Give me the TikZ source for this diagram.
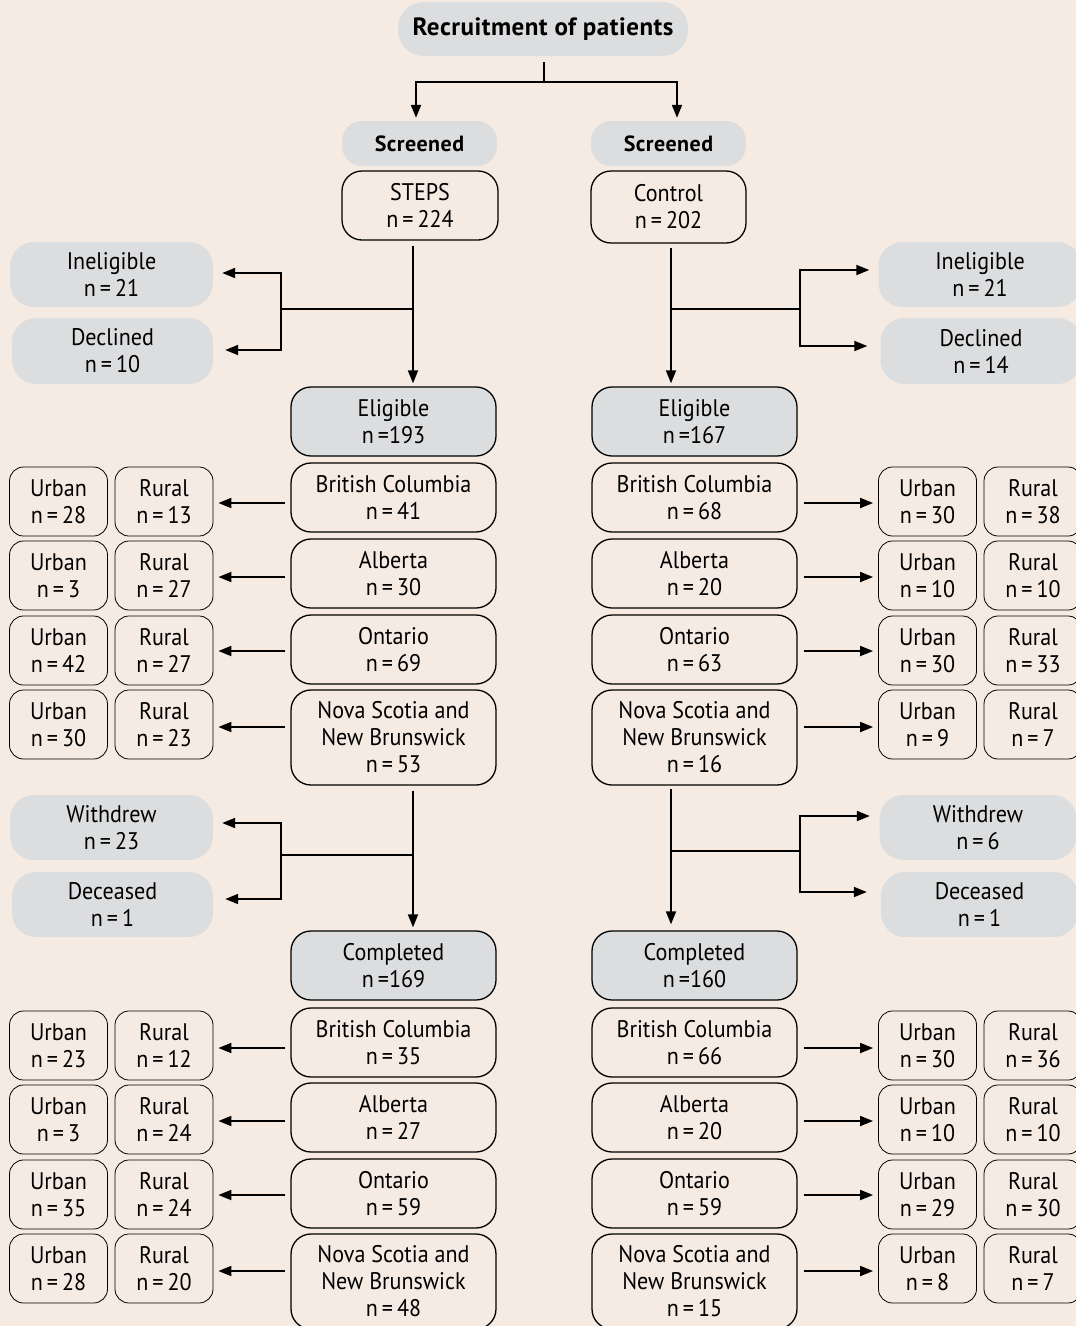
\documentclass[tikz,border=0pt]{standalone}
\usepackage{fontspec}
\setmainfont[FakeStretch=0.92]{PT Sans}
\newfontfamily\headfont[LetterSpace=2]{PT Sans}
\usetikzlibrary{arrows.meta}
\definecolor{bg}{RGB}{246,235,226}
\definecolor{gbox}{RGB}{220,221,223}
\newcommand{\nn}[1]{n\,=\,#1}
\begin{document}
\begin{tikzpicture}[x=1pt,y=-1pt,
  every node/.style={font=\fontsize{24}{27}\selectfont, align=center, inner sep=0pt},
  greybox/.style={fill=gbox, rounded corners=24pt, minimum width=203pt, minimum height=65pt},
  headbox/.style={fill=gbox, rounded corners=20pt, minimum width=155pt, minimum height=45pt, font=\headfont\fontsize{22}{26}\selectfont\bfseries},
  provbox/.style={draw, line width=1.3pt, rounded corners=20pt, minimum width=205pt, minimum height=69pt},
  elbox/.style={provbox, fill=gbox},
  subbox/.style={draw, line width=0.8pt, rounded corners=14pt, minimum width=98pt, minimum height=69pt},
  conn/.style={line width=1.8pt},
  arr/.style={conn, -{Triangle[length=13pt,width=10pt]}}
]
\useasboundingbox (0,0) rectangle (1076,1326);
\fill[bg] (0,0) rectangle (1076,1326);
\clip (0,0) rectangle (1076,1326);

% title and screening
\node[fill=gbox, rounded corners=26pt, minimum width=290pt, minimum height=54pt, font=\headfont\fontsize{25}{28}\selectfont\bfseries] (title) at (543,29) {Recruitment of patients};
\node[headbox] (scrL) at (419.5,143.5) {Screened};
\node[headbox] (scrR) at (668.5,143.5) {Screened};
\node[provbox, minimum width=156pt] (steps) at (420,205.5) {STEPS\\\nn{224}};
\node[provbox, minimum width=155pt, minimum height=72pt] (ctrl) at (668.5,207) {Control\\\nn{202}};

\coordinate (split) at (544,82);
\draw[conn] ([yshift=-6pt]title.south -| split) -- (split);
\draw[arr, shorten >=3pt] (split) -| ([xshift=-3.5pt]scrL.north);
\draw[arr, shorten >=3pt] (split) -| ([xshift=8.5pt]scrR.north);

% exclusions at screening
\node[greybox] (inelL) at (111.5,274.5) {Ineligible\\\nn{21}};
\node[greybox, minimum width=201pt, minimum height=66pt] (declL) at (112.5,351) {Declined\\\nn{10}};
\node[greybox] (inelR) at (980,274.5) {Ineligible\\\nn{21}};
\node[greybox, minimum width=201pt, minimum height=66pt] (declR) at (981,351) {Declined\\\nn{14}};

\node[elbox] (eligL) at (393.5,421.5) {Eligible\\n\,=193};
\node[elbox] (eligR) at (694.5,421.5) {Eligible\\n\,=167};

\coordinate (sL) at (413,246);
\coordinate (bL) at (413,309);
\coordinate (jL) at (281,309);
\draw[arr, shorten >=3pt] (sL) -- (sL |- eligL.north);
\draw[conn] (bL) -- (jL);
\draw[arr, shorten >=9pt] (jL) |- ([yshift=1.5pt]inelL.east);
\draw[arr, shorten >=12pt] (jL) |- ([yshift=1pt]declL.east);

\coordinate (sR) at (671,248);
\coordinate (bR) at (671,309);
\coordinate (jR) at (800,309);
\draw[arr, shorten >=3pt] (sR) -- (sR |- eligR.north);
\draw[conn] (bR) -- (jR);
\draw[arr, shorten >=9pt] (jR) |- ([yshift=4.5pt]inelR.west);
\draw[arr, shorten >=13pt] (jR) |- ([yshift=5pt]declR.west);

% provinces at eligibility
\node[provbox] (p1L) at (393.5,497.5) {British Columbia\\\nn{41}};
\node[provbox] (p2L) at (393.5,573.5) {Alberta\\\nn{30}};
\node[provbox] (p3L) at (393.5,649.5) {Ontario\\\nn{69}};
\node[provbox, minimum height=95pt] (p4L) at (393.5,737.5) {Nova Scotia and\\New Brunswick\\\nn{53}};
\node[provbox] (p1R) at (694.5,497.5) {British Columbia\\\nn{68}};
\node[provbox] (p2R) at (694.5,573.5) {Alberta\\\nn{20}};
\node[provbox] (p3R) at (694.5,649.5) {Ontario\\\nn{63}};
\node[provbox, minimum height=95pt] (p4R) at (694.5,737.5) {Nova Scotia and\\New Brunswick\\\nn{16}};

\node[subbox] (u1L) at (58.5,501.5) {Urban\\\nn{28}};
\node[subbox] (r1L) at (164,501.5) {Rural\\\nn{13}};
\node[subbox] (u2L) at (58.5,575.5) {Urban\\\nn{3}};
\node[subbox] (r2L) at (164,575.5) {Rural\\\nn{27}};
\node[subbox] (u3L) at (58.5,650.5) {Urban\\\nn{42}};
\node[subbox] (r3L) at (164,650.5) {Rural\\\nn{27}};
\node[subbox] (u4L) at (58.5,724.5) {Urban\\\nn{30}};
\node[subbox] (r4L) at (164,724.5) {Rural\\\nn{23}};
\node[subbox] (u1R) at (927.5,501.5) {Urban\\\nn{30}};
\node[subbox] (r1R) at (1033,501.5) {Rural\\\nn{38}};
\node[subbox] (u2R) at (927.5,575.5) {Urban\\\nn{10}};
\node[subbox] (r2R) at (1033,575.5) {Rural\\\nn{10}};
\node[subbox] (u3R) at (927.5,650.5) {Urban\\\nn{30}};
\node[subbox] (r3R) at (1033,650.5) {Rural\\\nn{33}};
\node[subbox] (u4R) at (927.5,724.5) {Urban\\\nn{9}};
\node[subbox] (r4R) at (1033,724.5) {Rural\\\nn{7}};

\foreach \i/\d in {1/-1.5,2/-1.5,3/-0.5,4/-2.5}{
  \draw[arr, shorten <=5pt, shorten >=5pt] ([yshift=\d pt]p\i L.west |- r\i L.east) -- ([yshift=\d pt]r\i L.east);
  \draw[arr, shorten <=6pt, shorten >=5pt] ([yshift=\d pt]p\i R.east |- u\i R.west) -- ([yshift=\d pt]u\i R.west);
}

% follow-up losses
\node[greybox] (wdL) at (111.5,827.5) {Withdrew\\\nn{23}};
\node[greybox, minimum width=201pt] (dcL) at (112.5,904.5) {Deceased\\\nn{1}};
\node[greybox, minimum width=197pt] (wdR) at (978,827.5) {Withdrew\\\nn{6}};
\node[greybox, minimum width=197pt] (dcR) at (979.5,904.5) {Deceased\\\nn{1}};

\node[elbox] (compL) at (393.5,965.5) {Completed\\n\,=169};
\node[elbox] (compR) at (694.5,965.5) {Completed\\n\,=160};

\coordinate (tL) at (413,791);
\coordinate (cL) at (413,855);
\coordinate (kL) at (281,855);
\draw[arr, shorten >=3pt] (tL) -- (tL |- compL.north);
\draw[conn] (cL) -- (kL);
\draw[arr, shorten >=9pt] (kL) |- ([yshift=4.5pt]wdL.east);
\draw[arr, shorten >=12pt] (kL) |- ([yshift=5.5pt]dcL.east);

\coordinate (tR) at (671,789);
\coordinate (cR) at (671,851);
\coordinate (kR) at (800,851);
\draw[arr, shorten >=6pt] (tR) -- (tR |- compR.north);
\draw[conn] (cR) -- (kR);
\draw[arr, shorten >=9.5pt] (kR) |- ([yshift=11.5pt]wdR.west);
\draw[arr, shorten >=14pt] (kR) |- ([yshift=12.5pt]dcR.west);

% provinces at completion
\node[provbox] (q1L) at (393.5,1042.5) {British Columbia\\\nn{35}};
\node[provbox] (q2L) at (393.5,1117.5) {Alberta\\\nn{27}};
\node[provbox] (q3L) at (393.5,1193.5) {Ontario\\\nn{59}};
\node[provbox, minimum height=95pt] (q4L) at (393.5,1281.5) {Nova Scotia and\\New Brunswick\\\nn{48}};
\node[provbox] (q1R) at (694.5,1042.5) {British Columbia\\\nn{66}};
\node[provbox] (q2R) at (694.5,1117.5) {Alberta\\\nn{20}};
\node[provbox] (q3R) at (694.5,1193.5) {Ontario\\\nn{59}};
\node[provbox, minimum height=95pt] (q4R) at (694.5,1281.5) {Nova Scotia and\\New Brunswick\\\nn{15}};

\node[subbox] (v1L) at (58.5,1045.5) {Urban\\\nn{23}};
\node[subbox] (s1L) at (164,1045.5) {Rural\\\nn{12}};
\node[subbox] (v2L) at (58.5,1119.5) {Urban\\\nn{3}};
\node[subbox] (s2L) at (164,1119.5) {Rural\\\nn{24}};
\node[subbox] (v3L) at (58.5,1194.5) {Urban\\\nn{35}};
\node[subbox] (s3L) at (164,1194.5) {Rural\\\nn{24}};
\node[subbox] (v4L) at (58.5,1268.5) {Urban\\\nn{28}};
\node[subbox] (s4L) at (164,1268.5) {Rural\\\nn{20}};
\node[subbox] (v1R) at (927.5,1045.5) {Urban\\\nn{30}};
\node[subbox] (s1R) at (1033,1045.5) {Rural\\\nn{36}};
\node[subbox] (v2R) at (927.5,1119.5) {Urban\\\nn{10}};
\node[subbox] (s2R) at (1033,1119.5) {Rural\\\nn{10}};
\node[subbox] (v3R) at (927.5,1194.5) {Urban\\\nn{29}};
\node[subbox] (s3R) at (1033,1194.5) {Rural\\\nn{30}};
\node[subbox] (v4R) at (927.5,1268.5) {Urban\\\nn{8}};
\node[subbox] (s4R) at (1033,1268.5) {Rural\\\nn{7}};

\foreach \i/\d in {1/-2.5,2/-1.5,3/-0.5,4/-2.5}{
  \draw[arr, shorten <=5pt, shorten >=5pt] ([yshift=\d pt]q\i L.west |- s\i L.east) -- ([yshift=\d pt]s\i L.east);
  \draw[arr, shorten <=6pt, shorten >=5pt] ([yshift=\d pt]q\i R.east |- v\i R.west) -- ([yshift=\d pt]v\i R.west);
}
\end{tikzpicture}
\end{document}
